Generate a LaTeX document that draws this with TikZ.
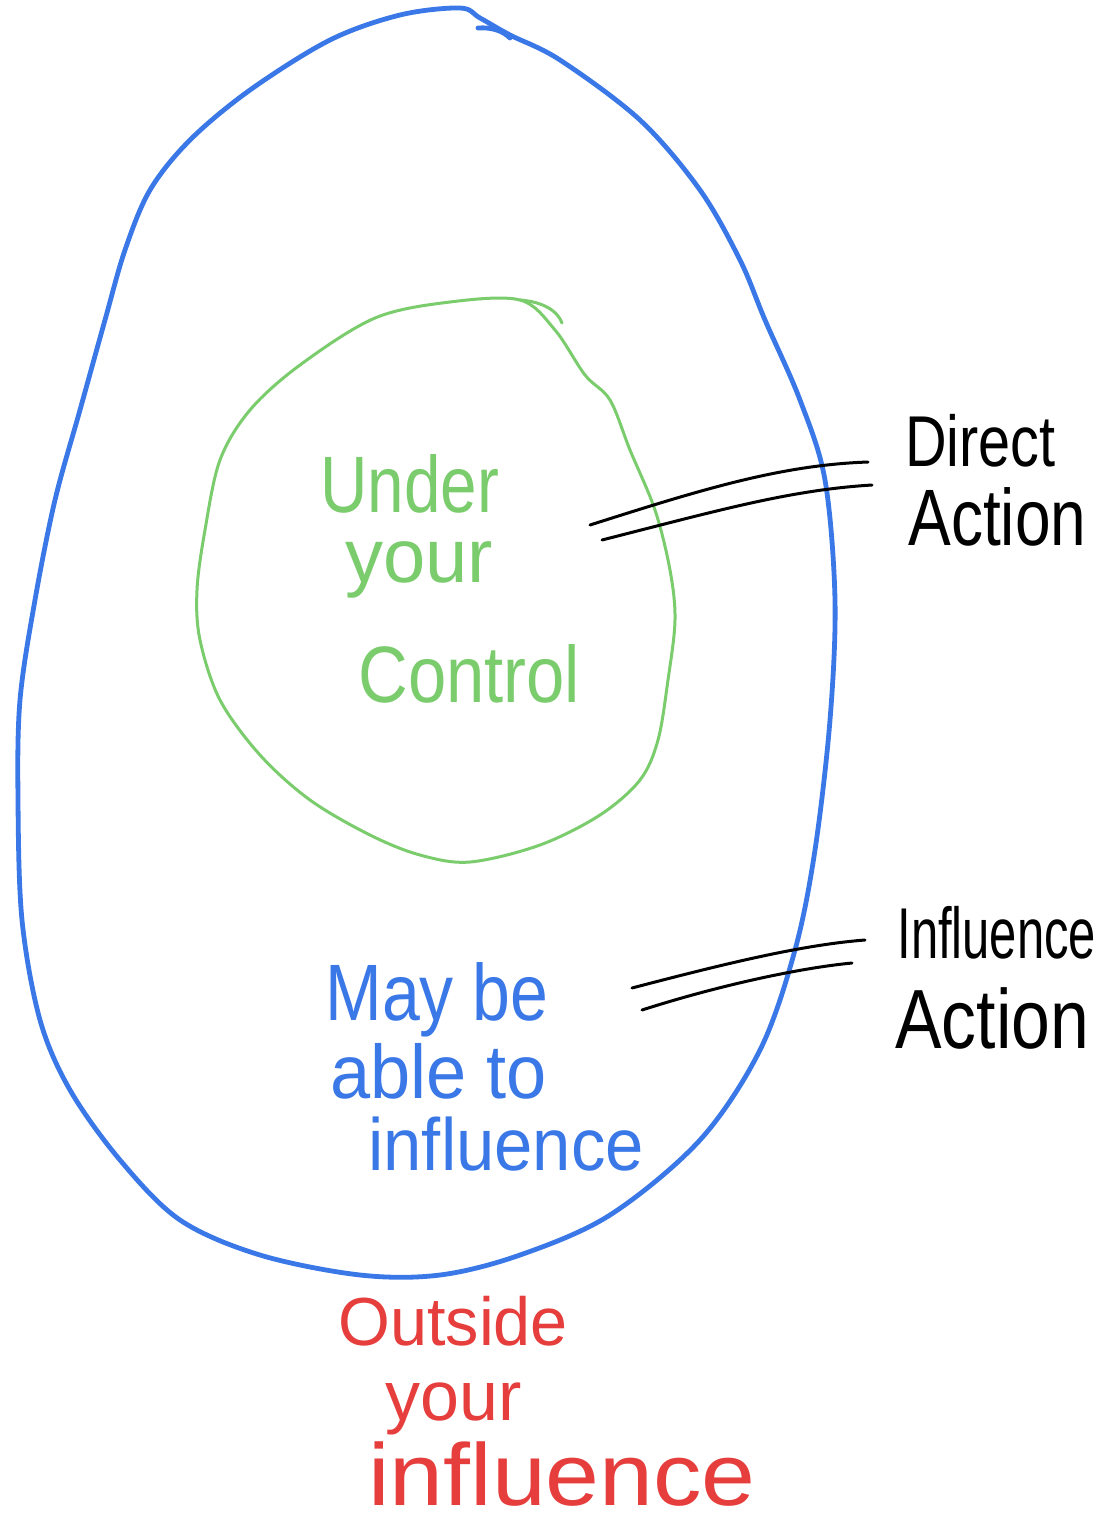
\documentclass[tikz,border=0pt]{standalone}
\usepackage{fontspec}
\usepackage{graphicx}
\setmainfont{Liberation Sans}
\definecolor{eggblue}{HTML}{3B78E7}
\definecolor{ctrlgreen}{HTML}{7ACC6C}
\definecolor{outred}{HTML}{E63E3C}
\newcommand{\hsq}[2]{\scalebox{#1}[1]{#2}}
\begin{document}
\begin{tikzpicture}[x=0.5pt,y=-0.5pt,
  egg/.style={draw=eggblue,line width=2.4pt,line join=round,line cap=round},
  ring/.style={draw=ctrlgreen,line width=1.5pt,line join=round,line cap=round},
  lead/.style={draw=black,line width=1.5pt,line cap=round},
  lbl/.style={inner sep=0pt,anchor=base west},
  fs/.style={font=\fontsize{#1}{#1}\selectfont}]
\useasboundingbox (0,0) rectangle (1104,1522);
\fill[white] (0,0) rectangle (1104,1522);
% outer egg
\draw[egg] plot[smooth cycle,tension=0.55] coordinates {
 (460,8) (400,15) (330,40) (250,90) (190,140) (150,190) (125,250) (105,320)
 (80,410) (55,500) (35,600) (20,700) (18,800) (22,920) (40,1020) (70,1090)
 (120,1160) (180,1220) (260,1255) (360,1275) (440,1275) (520,1255) (610,1215)
 (700,1140) (760,1050) (795,950) (815,850) (830,720) (835,600) (825,480)
 (800,400) (765,320) (740,260) (700,190) (640,120) (560,60) (510,35) (480,18)};
\draw[egg] (478,28) .. controls (492,27) and (503,31) .. (510,38);
% inner green
\draw[ring] plot[smooth cycle,tension=0.55] coordinates {
 (450,302) (520,300) (555,330) (585,375) (610,400) (630,450) (655,510)
 (670,570) (675,620) (668,680) (658,740) (640,780) (600,815) (540,845)
 (470,862) (420,855) (370,835) (310,800) (260,755) (220,700) (200,640)
 (197,590) (205,530) (220,460) (250,410) (300,365) (375,318)};
\draw[ring] (520,300) .. controls (545,302) and (558,312) .. (562,323);
% texts
\node[lbl,fs=40,text=ctrlgreen] (u1) at (320,512) {\hsq{0.82}{Under}};
\node[lbl,fs=38,text=ctrlgreen] (u2) at (345,582) {your};
\node[lbl,fs=40,text=ctrlgreen] (u3) at (358,702) {\hsq{0.86}{Control}};
\node[lbl,fs=40,text=eggblue] (m1) at (325,1020) {\hsq{0.85}{May be}};
\node[lbl,fs=38,text=eggblue] (m2) at (330,1098) {\hsq{0.95}{able to}};
\node[lbl,fs=37,text=eggblue] (m3) at (368,1170) {\hsq{0.93}{influence}};
\node[lbl,fs=34,text=outred] (o1) at (338,1345) {\hsq{0.98}{Outside}};
\node[lbl,fs=35,text=outred] (o2) at (385,1420) {your};
\node[lbl,fs=44,text=outred] (o3) at (368,1505) {\hsq{1.1}{influence}};
\node[lbl,fs=36] (d1) at (905,466) {\hsq{0.8}{Direct}};
\node[lbl,fs=40] (d2) at (908,545) {\hsq{0.8}{Action}};
\node[lbl,fs=36] (i1) at (897,958) {\hsq{0.68}{Influence}};
\node[lbl,fs=42] (i2) at (895,1048) {\hsq{0.83}{Action}};
% leaders
\coordinate (da1) at (590,525); \coordinate (db1) at (868,462);
\coordinate (da2) at (602,540); \coordinate (db2) at (872,485);
\coordinate (ia1) at (632,988); \coordinate (ib1) at (865,940);
\coordinate (ia2) at (642,1010); \coordinate (ib2) at (852,963);
\draw[lead] (da1) .. controls (700,490) and (780,465) .. (db1);
\draw[lead] (da2) .. controls (720,510) and (790,490) .. (db2);
\draw[lead] (ia1) .. controls (720,965) and (800,945) .. (ib1);
\draw[lead] (ia2) .. controls (720,985) and (800,968) .. (ib2);
\end{tikzpicture}
\end{document}
